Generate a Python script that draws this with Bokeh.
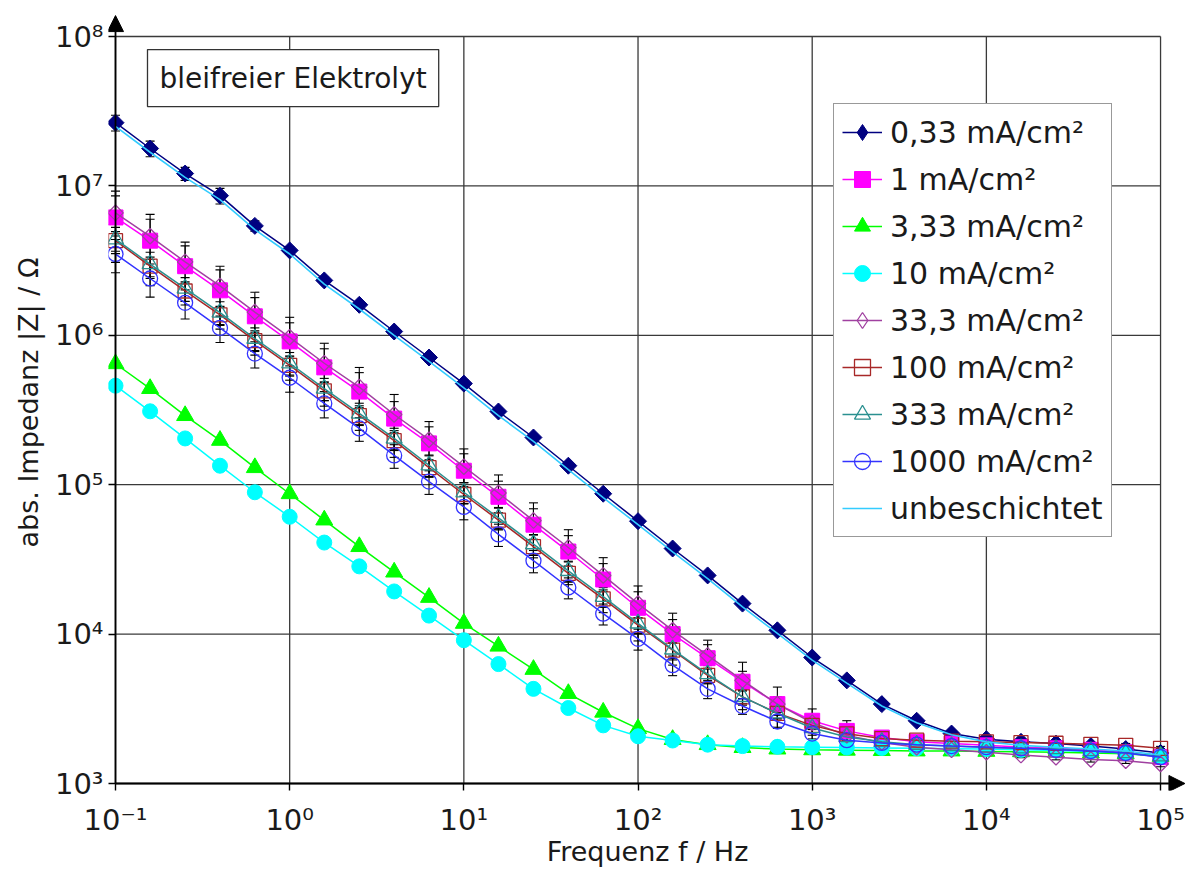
import math
from bokeh.plotting import figure
from bokeh.models import (Range1d, FixedTicker, Whisker, TeeHead, Arrow, NormalHead,
                          Label, Legend, LegendItem, ColumnDataSource, CustomJSTickFormatter)
from bokeh.embed import file_html
from bokeh.resources import INLINE

FONT = "DejaVu Sans"

freq = [0.1, 0.158, 0.251, 0.398, 0.631, 1, 1.58, 2.51, 3.98, 6.31,
        10, 15.8, 25.1, 39.8, 63.1, 100, 158, 251, 398, 631,
        1000, 1580, 2510, 3980, 6310, 10000, 15800, 25100, 39800, 63100, 100000]

z_033 = [2.65e7, 1.78e7, 1.21e7, 8.6e6, 5.4e6, 3.7e6, 2.33e6, 1.6e6, 1.06e6, 7.1e5,
         4.75e5, 3.09e5, 2.07e5, 1.34e5, 8.7e4, 5.7e4, 3.74e4, 2.47e4, 1.6e4, 1.06e4,
         6.97e3, 4.9e3, 3.4e3, 2.63e3, 2.16e3, 1.98e3, 1.9e3, 1.85e3, 1.78e3, 1.7e3, 1.6e3]
z_1 = [6.15e6, 4.3e6, 2.9e6, 2.0e6, 1.34e6, 9.1e5, 6.1e5, 4.2e5, 2.77e5, 1.89e5,
       1.24e5, 8.3e4, 5.4e4, 3.57e4, 2.32e4, 1.5e4, 1.0e4, 6.9e3, 4.8e3, 3.4e3,
       2.63e3, 2.25e3, 2.03e3, 1.9e3, 1.85e3, 1.8e3, 1.75e3, 1.72e3, 1.68e3, 1.62e3, 1.5e3]
z_333 = [6.45e5, 4.4e5, 2.9e5, 1.98e5, 1.3e5, 8.7e4, 5.8e4, 3.85e4, 2.6e4, 1.76e4,
         1.18e4, 8.3e3, 5.8e3, 4.0e3, 3.0e3, 2.33e3, 1.97e3, 1.82e3, 1.74e3, 1.7e3,
         1.68e3, 1.67e3, 1.66e3, 1.65e3, 1.65e3, 1.64e3, 1.63e3, 1.62e3, 1.6e3, 1.58e3, 1.52e3]
z_10 = [4.6e5, 3.1e5, 2.04e5, 1.34e5, 8.9e4, 6.1e4, 4.1e4, 2.84e4, 1.93e4, 1.33e4,
        9.1e3, 6.3e3, 4.3e3, 3.2e3, 2.45e3, 2.07e3, 1.94e3, 1.82e3, 1.78e3, 1.76e3,
        1.75e3, 1.74e3, 1.73e3, 1.72e3, 1.71e3, 1.7e3, 1.68e3, 1.66e3, 1.64e3, 1.6e3, 1.52e3]
z_333x = [6.6e6, 4.6e6, 3.1e6, 2.14e6, 1.43e6, 9.7e5, 6.5e5, 4.5e5, 2.95e5, 2.0e5,
          1.32e5, 8.8e4, 5.75e4, 3.8e4, 2.47e4, 1.6e4, 1.06e4, 7.2e3, 4.9e3, 3.4e3,
          2.55e3, 2.1e3, 1.88e3, 1.75e3, 1.68e3, 1.62e3, 1.55e3, 1.5e3, 1.45e3, 1.42e3, 1.35e3]
z_100 = [4.3e6, 2.9e6, 1.98e6, 1.37e6, 9.2e5, 6.3e5, 4.25e5, 2.9e5, 1.97e5, 1.3e5,
         8.6e4, 5.8e4, 3.85e4, 2.55e4, 1.72e4, 1.15e4, 7.8e3, 5.3e3, 3.8e3, 2.95e3,
         2.45e3, 2.15e3, 2.0e3, 1.95e3, 1.92e3, 1.9e3, 1.88e3, 1.86e3, 1.83e3, 1.8e3, 1.72e3]
z_333m = [4.4e6, 3.0e6, 2.06e6, 1.42e6, 9.5e5, 6.5e5, 4.4e5, 3.0e5, 2.04e5, 1.35e5,
          8.9e4, 6.0e4, 4.0e4, 2.65e4, 1.78e4, 1.18e4, 7.9e3, 5.4e3, 3.8e3, 2.95e3,
          2.35e3, 2.05e3, 1.9e3, 1.82e3, 1.78e3, 1.75e3, 1.72e3, 1.7e3, 1.65e3, 1.6e3, 1.52e3]
z_1000 = [3.5e6, 2.4e6, 1.65e6, 1.12e6, 7.55e5, 5.2e5, 3.5e5, 2.38e5, 1.57e5, 1.05e5,
          7.1e4, 4.65e4, 3.1e4, 2.05e4, 1.37e4, 9.3e3, 6.2e3, 4.3e3, 3.3e3, 2.6e3,
          2.16e3, 1.95e3, 1.87e3, 1.82e3, 1.78e3, 1.75e3, 1.72e3, 1.68e3, 1.65e3, 1.6e3, 1.5e3]
z_unb = [2.5e7, 1.68e7, 1.14e7, 8.1e6, 5.1e6, 3.5e6, 2.2e6, 1.5e6, 1.0e6, 6.7e5,
         4.45e5, 2.9e5, 1.95e5, 1.26e5, 8.2e4, 5.4e4, 3.55e4, 2.35e4, 1.52e4, 1.01e4,
         6.7e3, 4.7e3, 3.3e3, 2.55e3, 2.12e3, 1.9e3, 1.8e3, 1.75e3, 1.7e3, 1.65e3, 1.55e3]

# relative standard deviations (error bars)
e_033 = [0.12, 0.12, 0.1, 0.12, 0.08, 0.06, 0.05, 0.05, 0.06, 0.06, 0.06, 0.05, 0.05, 0.05, 0.05,
         0.04, 0.04, 0.04, 0.04, 0.04, 0.03, 0.03, 0.03, 0.03, 0.02, 0.02, 0.02, 0.02, 0.02, 0.02, 0.02]
e_1 = [0.5, 0.5, 0.45, 0.45, 0.45, 0.45, 0.45, 0.45, 0.45, 0.4, 0.4, 0.4, 0.4, 0.4, 0.4,
       0.4, 0.38, 0.32, 0.35, 0.3, 0.2, 0.17, 0.1, 0.08, 0.06, 0.05, 0.05, 0.05, 0.05, 0.05, 0.05]
e_333x = [0.3, 0.3, 0.28, 0.28, 0.25, 0.25, 0.25, 0.25, 0.22, 0.22, 0.22, 0.2, 0.2, 0.2, 0.2,
          0.2, 0.18, 0.18, 0.15, 0.12, 0.1, 0.08, 0.06, 0.05, 0.04, 0.04, 0.04, 0.04, 0.04, 0.04, 0.04]
e_100 = [0.15, 0.15, 0.15, 0.14, 0.14, 0.14, 0.14, 0.13, 0.13, 0.13, 0.13, 0.12, 0.12, 0.12, 0.12,
         0.12, 0.12, 0.1, 0.1, 0.08, 0.06, 0.05, 0.04, 0.04, 0.04, 0.03, 0.03, 0.03, 0.03, 0.03, 0.03]
e_333m = [0.2, 0.2, 0.18, 0.18, 0.18, 0.18, 0.17, 0.17, 0.17, 0.17, 0.16, 0.16, 0.16, 0.16, 0.15,
          0.15, 0.15, 0.14, 0.12, 0.1, 0.07, 0.05, 0.04, 0.04, 0.04, 0.03, 0.03, 0.03, 0.03, 0.03, 0.03]
e_1000 = [0.25, 0.25, 0.22, 0.2, 0.2, 0.2, 0.2, 0.18, 0.18, 0.18, 0.18, 0.17, 0.17, 0.16, 0.16,
          0.16, 0.15, 0.14, 0.12, 0.1, 0.08, 0.05, 0.04, 0.04, 0.03, 0.03, 0.03, 0.03, 0.03, 0.03, 0.03]

x_exps = [-1, 0, 1, 2, 3, 4, 5]
x_labels = ["10⁻¹", "10⁰", "10¹", "10²", "10³", "10⁴", "10⁵"]
y_exps = [3, 4, 5, 6, 7, 8]
y_labels = ["10³", "10⁴", "10⁵", "10⁶", "10⁷", "10⁸"]

x_ticks = [10.0 ** e for e in x_exps]
y_ticks = [10.0 ** e for e in y_exps]
x_min, x_max = x_ticks[0], x_ticks[-1]
y_min, y_max = y_ticks[0], y_ticks[-1]

GRID = "#3a3a3a"
TXT = "#1a1a1a"

# frame: 7 px of room left of / below the axes, room for the arrow heads right / top
p = figure(x_axis_type="log", y_axis_type="log",
           x_range=Range1d(10 ** (-1 - 0.0402), 10 ** (5 + 0.149)),
           y_range=Range1d(10 ** (3 - 0.04685), 10 ** (8 + 0.14726)),
           width=1186, height=870,
           frame_width=1078, frame_height=776,
           min_border_left=108, min_border_right=0, min_border_top=14, min_border_bottom=80,
           output_backend="svg", toolbar_location=None)
p.background_fill_color = "white"
p.border_fill_color = "white"
p.outline_line_color = None
p.xgrid.grid_line_color = None
p.ygrid.grid_line_color = None

p.xaxis.ticker = FixedTicker(ticks=x_ticks, minor_ticks=[])
p.yaxis.ticker = FixedTicker(ticks=y_ticks, minor_ticks=[])
fmt_code = """
const e = Math.round(Math.log10(tick));
const i = exps.indexOf(e);
return i >= 0 ? labs[i] : "";
"""
p.xaxis.formatter = CustomJSTickFormatter(args=dict(exps=x_exps, labs=x_labels), code=fmt_code)
p.yaxis.formatter = CustomJSTickFormatter(args=dict(exps=y_exps, labs=y_labels), code=fmt_code)

for ax in (p.xaxis[0], p.yaxis[0]):
    ax.axis_line_color = None
    ax.major_tick_line_color = "black"
    ax.major_tick_line_width = 1.4
    ax.major_tick_out = 0
    ax.major_tick_in = 7
    ax.minor_tick_line_color = None
    ax.major_label_text_font = FONT
    ax.major_label_text_font_size = "29px"
    ax.major_label_text_color = TXT
    ax.axis_label_text_font = FONT
    ax.axis_label_text_font_size = "27px"
    ax.axis_label_text_font_style = "normal"
    ax.axis_label_text_color = TXT

p.xaxis.axis_label = "Frequenz f / Hz"
p.yaxis.axis_label = "abs. Impedanz |Z| / Ω"
p.xaxis.major_label_standoff = 12
p.xaxis.axis_label_standoff = -4
p.yaxis.major_label_standoff = 5
p.yaxis.axis_label_standoff = 8

# grid lines, limited to the decade box
p.segment(x0=x_ticks, y0=[y_min] * len(x_ticks), x1=x_ticks, y1=[y_max] * len(x_ticks),
          line_color=GRID, line_width=1.3, level="underlay")
p.segment(x0=[x_min] * len(y_ticks), y0=y_ticks, x1=[x_max] * len(y_ticks), y1=y_ticks,
          line_color=GRID, line_width=1.3, level="underlay")

# axes with arrow heads
p.add_layout(Arrow(x_start=x_min, y_start=y_min, x_end=10 ** (5 + 0.14), y_end=y_min,
                   line_color="black", line_width=1.8,
                   end=NormalHead(size=16, fill_color="black", line_color="black")))
p.add_layout(Arrow(x_start=x_min, y_start=y_min, x_end=x_min, y_end=10 ** (8 + 0.14),
                   line_color="black", line_width=1.8,
                   end=NormalHead(size=16, fill_color="black", line_color="black")))

series = [
    ("0,33 mA/cm²", z_033, e_033, "#000080", dict(marker="square", angle=math.pi / 4, size=12,
                                                   fill_color="#000080", line_color="#000080"),
     dict(marker="diamond", size=20, fill_color="#000080", line_color="#000080")),
    ("1 mA/cm²", z_1, e_1, "#FF00FF", dict(marker="square", size=15, fill_color="#FF00FF",
                                           line_color="#FF00FF"), None),
    ("3,33 mA/cm²", z_333, None, "#00FF00", dict(marker="triangle", size=17, fill_color="#00FF00",
                                                 line_color="#00FF00"), None),
    ("10 mA/cm²", z_10, None, "#00FFFF", dict(marker="circle", size=15, fill_color="#00FFFF",
                                              line_color="#00FFFF"), None),
    ("33,3 mA/cm²", z_333x, e_333x, "#A040A0", dict(marker="square", angle=math.pi / 4, size=11,
                                                    fill_color=None, line_color="#A040A0",
                                                    line_width=1.3),
     dict(marker="diamond", size=19, fill_color=None, line_color="#A040A0", line_width=1.3)),
    ("100 mA/cm²", z_100, e_100, "#A82828", dict(marker="square", size=14, fill_color=None,
                                                 line_color="#A82828", line_width=1.3), None),
    ("333 mA/cm²", z_333m, e_333m, "#2A9090", dict(marker="triangle", size=16, fill_color=None,
                                                   line_color="#2A9090", line_width=1.3), None),
    ("1000 mA/cm²", z_1000, e_1000, "#3333FF", dict(marker="circle", size=15, fill_color=None,
                                                    line_color="#3333FF", line_width=1.3), None),
]

legend_items = []
for label, vals, errs, lc, mk, leg_mk in series:
    src = ColumnDataSource(dict(f=freq, z=vals))
    if errs is not None:
        up = [v * (1 + e) for v, e in zip(vals, errs)]
        lo = [v * (1 - e) for v, e in zip(vals, errs)]
        esrc = ColumnDataSource(dict(f=freq, up=up, lo=lo))
        p.add_layout(Whisker(base="f", upper="up", lower="lo", source=esrc, dimension="height",
                             line_color="black", line_width=1.1, level="underlay",
                             upper_head=TeeHead(size=9, line_color="black", line_width=1.1),
                             lower_head=TeeHead(size=9, line_color="black", line_width=1.1)))
    r1 = p.line("f", "z", source=src, line_color=lc, line_width=1.5)
    r2 = p.scatter("f", "z", source=src, **mk)
    if leg_mk is not None:
        # legend-only marker (not shown in the plot area)
        r2 = p.scatter(x=[float("nan")], y=[float("nan")], **leg_mk)
    legend_items.append(LegendItem(label=label, renderers=[r1, r2]))

src_u = ColumnDataSource(dict(f=freq, z=z_unb))
ru = p.line("f", "z", source=src_u, line_color="#33CCFF", line_width=1.6)
legend_items.append(LegendItem(label="unbeschichtet", renderers=[ru]))

legend = Legend(items=legend_items, location=(725, 253),
                label_text_font=FONT, label_text_font_size="30px", label_text_color=TXT,
                glyph_width=40, glyph_height=40, label_height=40, spacing=7,
                padding=8, margin=0, label_standoff=8,
                border_line_color="#333333", border_line_width=1.3,
                background_fill_color="white", background_fill_alpha=1.0)
p.add_layout(legend)

p.add_layout(Label(x=10 ** -0.8163, y=10 ** 7.722, text="bleifreier Elektrolyt",
                   text_font=FONT, text_font_size="28px", text_color=TXT,
                   text_baseline="middle", text_align="left",
                   border_line_color="#333333", border_line_width=1.3,
                   background_fill_color="white", padding=12))

open("out.html", "w").write(file_html(p, INLINE))
